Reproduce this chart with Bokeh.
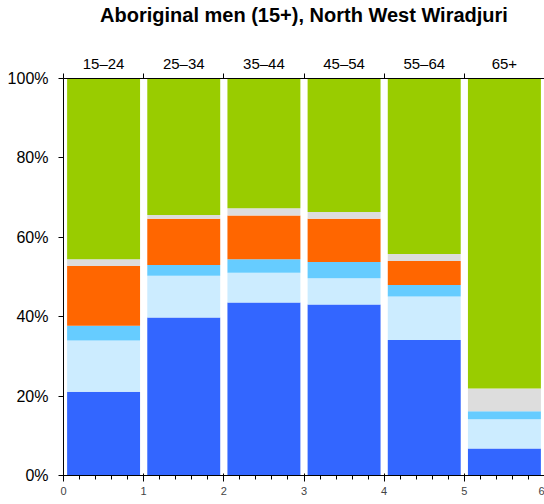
from bokeh.plotting import figure
from bokeh.models import ColumnDataSource, FixedTicker, Range1d, LinearAxis
from bokeh.embed import file_html
from bokeh.resources import INLINE

categories = ["15–24", "25–34", "35–44", "45–54", "55–64", "65+"]
seg1 = [21.1, 39.8, 43.6, 43.1, 34.1, 6.8]   # dark blue
seg2 = [12.9, 10.5, 7.5, 6.6, 11.0, 7.4]     # light blue
seg3 = [3.7, 2.7, 3.4, 4.1, 2.9, 2.0]        # cyan
seg4 = [15.1, 11.7, 11.0, 10.9, 6.0, 0.0]    # orange
seg5 = [1.7, 0.9, 1.8, 1.7, 1.8, 5.7]        # grey
seg6 = [45.5, 34.4, 32.7, 33.6, 44.2, 78.1]  # green
y_ticks = [0, 20, 40, 60, 80, 100]
title_text = "Aboriginal men (15+), North West Wiradjuri"

keys = ["s1", "s2", "s3", "s4", "s5", "s6"]
colors = ["#3366FF", "#CCECFF", "#66CCFF", "#FF6600", "#DDDDDD", "#99CC00"]
xs = [i + 0.5 for i in range(len(categories))]
src = ColumnDataSource(dict(x=xs, s1=seg1, s2=seg2, s3=seg3, s4=seg4, s5=seg5, s6=seg6))

p = figure(width=544, height=504, output_backend="svg", toolbar_location=None,
           x_range=Range1d(0, len(categories)), y_range=Range1d(0, 100),
           min_border_left=63, min_border_right=0, min_border_bottom=29, min_border_top=61)
p.vbar_stack(keys, x="x", width=0.91, color=colors, source=src, line_width=0)

# title drawn as the label of an invisible axis above the frame
top_axis = LinearAxis(ticker=FixedTicker(ticks=[], minor_ticks=[]))
top_axis.axis_line_color = None
top_axis.major_tick_line_color = None
top_axis.minor_tick_line_color = None
top_axis.major_tick_out = 0
top_axis.minor_tick_out = 0
top_axis.major_label_text_font_size = "0px"
top_axis.axis_label = title_text
top_axis.axis_label_text_font = "Liberation Sans"
top_axis.axis_label_text_font_style = "bold"
top_axis.axis_label_text_font_size = "20px"
top_axis.axis_label_text_color = "black"
top_axis.axis_label_standoff = 26
p.add_layout(top_axis, "above")

p.outline_line_color = None
p.grid.visible = False

xa = p.xaxis[0]
xa.ticker = FixedTicker(ticks=xs, minor_ticks=list(range(len(categories) + 1)))
xa.major_label_overrides = {x: c for x, c in zip(xs, categories)}
xa.major_tick_line_color = None
xa.minor_tick_line_color = "black"
xa.minor_tick_out = 5
xa.minor_tick_in = 0
xa.major_label_standoff = 2
xa.axis_line_color = "black"
xa.major_label_text_font = "Liberation Sans"
xa.major_label_text_font_size = "15px"
xa.major_label_text_color = "black"

ya = p.yaxis[0]
ya.ticker = FixedTicker(ticks=y_ticks, minor_ticks=[])
ya.major_label_overrides = {t: f"{t}%" for t in y_ticks}
ya.major_tick_out = 5
ya.major_tick_in = 0
ya.major_label_standoff = 10
ya.axis_line_color = "black"
ya.major_label_text_font = "Liberation Sans"
ya.major_label_text_font_size = "16px"
ya.major_label_text_color = "black"

open("out.html", "w").write(file_html(p, INLINE))
